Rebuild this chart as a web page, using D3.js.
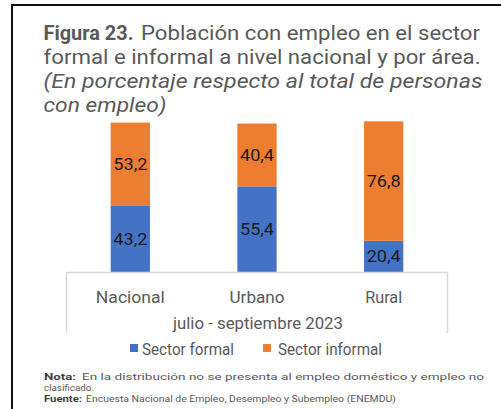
<!DOCTYPE html>
<html><head><meta charset="utf-8">
<script src="https://cdn.jsdelivr.net/npm/d3@7"></script>
<style>
html,body{margin:0;padding:0;background:#fff;}
svg{display:block;font-family:Roboto,"Open Sans",sans-serif;}
</style></head>
<body>
<svg id="c" width="501" height="409"></svg>
<script>
const categories = ["Nacional", "Urbano", "Rural"];
const formal = [43.2, 55.4, 20.4];
const informal = [53.2, 40.4, 76.8];
const seriesNames = ["Sector formal", "Sector informal"];
const periodLabel = "julio - septiembre 2023";
const titleLines = [
  ["Figura 23.", "Población con empleo en el sector"],
  ["", "formal e informal a nivel nacional y por área."],
  ["", "(En porcentaje respecto al total de personas"],
  ["", "con empleo)"]
];
const notes = [
  ["Nota:", "En la distribución no se presenta al empleo doméstico y empleo no"],
  ["", "clasificado."],
  ["Fuente:", "Encuesta Nacional de Empleo, Desempleo y Subempleo (ENEMDU)"]
];

const colors = ["#4472C4", "#ED7D31"];
const gray = "#595959";
const svg = d3.select("#c");

// outer frame
svg.append("path").attr("d", "M12,409V5H501").attr("fill", "none").attr("stroke", "#111").attr("stroke-width", 2);

// title
const tl = [
  {y: 40, bx: 43.5, blen: 90, x: 141, len: 339},
  {y: 64, x: 43.5, len: 437},
  {y: 88, x: 43.5, len: 439},
  {y: 112, x: 43.5, len: 123}
];
titleLines.forEach((l, i) => {
  const p = tl[i];
  if (l[0]) svg.append("text").attr("x", p.bx).attr("y", p.y).attr("font-size", 20)
    .attr("font-weight", "bold").attr("fill", gray)
    .attr("textLength", p.blen).attr("lengthAdjust", "spacingAndGlyphs").text(l[0]);
  svg.append("text").attr("x", p.x).attr("y", p.y)
    .attr("font-size", 20).attr("fill", gray)
    .attr("font-style", i >= 2 ? "italic" : "normal")
    .attr("textLength", p.len).attr("lengthAdjust", "spacingAndGlyphs").text(l[1]);
});

// scales
const x = d3.scaleBand().domain(categories).range([67, 447]).paddingInner(0.69).paddingOuter(0.345);
const y = d3.scaleLinear().domain([0, 100]).range([272.5, 117]);

const stackData = categories.map((c, i) => ({cat: c, formal: formal[i], informal: informal[i]}));
const stack = d3.stack().keys(["formal", "informal"])(stackData);

const g = svg.append("g");
stack.forEach((s, si) => {
  g.selectAll(null).data(s).join("rect")
    .attr("x", d => x(d.data.cat))
    .attr("width", x.bandwidth())
    .attr("y", d => y(d[1]))
    .attr("height", d => y(d[0]) - y(d[1]))
    .attr("fill", colors[si]);
  g.selectAll(null).data(s).join("text")
    .attr("x", d => x(d.data.cat) + x.bandwidth() / 2)
    .attr("y", d => (y(d[0]) + y(d[1])) / 2)
    .attr("dy", "0.36em")
    .attr("text-anchor", "middle")
    .attr("font-size", 16)
    .attr("fill", "#1a1a1a")
    .attr("textLength", 34).attr("lengthAdjust", "spacingAndGlyphs")
    .text(d => d3.format(".1f")(d[1] - d[0]).replace(".", ","));
});

// axis box
svg.append("path").attr("d", "M66.5,333V272.5H447.5V333").attr("fill", "none").attr("stroke", "#d9d9d9").attr("stroke-width", 1.5);

// category labels via axis
const catLen = {"Nacional": 69, "Urbano": 55, "Rural": 37};
const ax = svg.append("g").attr("transform", "translate(0,272.5)")
  .call(d3.axisBottom(x).tickSize(0).tickPadding(19));
ax.select(".domain").remove();
ax.selectAll("text").attr("font-size", 16).attr("fill", gray).attr("font-family", "Roboto")
  .attr("textLength", d => catLen[d]).attr("lengthAdjust", "spacingAndGlyphs");

svg.append("text").attr("x", 258).attr("y", 329).attr("text-anchor", "middle")
  .attr("font-size", 16).attr("fill", gray)
  .attr("textLength", 170).attr("lengthAdjust", "spacingAndGlyphs").text(periodLabel);

// legend
const leg = [{sx: 130, tx: 142, len: 92}, {sx: 263, tx: 278, len: 104}];
seriesNames.forEach((n, i) => {
  svg.append("rect").attr("x", leg[i].sx).attr("y", 344).attr("width", 8).attr("height", 8).attr("fill", colors[i]);
  svg.append("text").attr("x", leg[i].tx).attr("y", 355).attr("font-size", 16.5).attr("fill", gray)
    .attr("textLength", leg[i].len).attr("lengthAdjust", "spacingAndGlyphs").text(n);
});

// notes
const nl = [
  {y: 380, bx: 44, blen: 32, x: 82, len: 402},
  {y: 391, x: 44, len: 50},
  {y: 402, bx: 44, blen: 38, x: 86, len: 310}
];
notes.forEach((l, i) => {
  const p = nl[i];
  if (l[0]) svg.append("text").attr("x", p.bx).attr("y", p.y).attr("font-size", 9.3)
    .attr("font-weight", "bold").attr("fill", "#404040")
    .attr("textLength", p.blen).attr("lengthAdjust", "spacingAndGlyphs").text(l[0]);
  svg.append("text").attr("x", p.x).attr("y", p.y).attr("font-size", 9.3).attr("fill", gray)
    .attr("textLength", p.len).attr("lengthAdjust", "spacingAndGlyphs").text(l[1]);
});
</script>
</body></html>
